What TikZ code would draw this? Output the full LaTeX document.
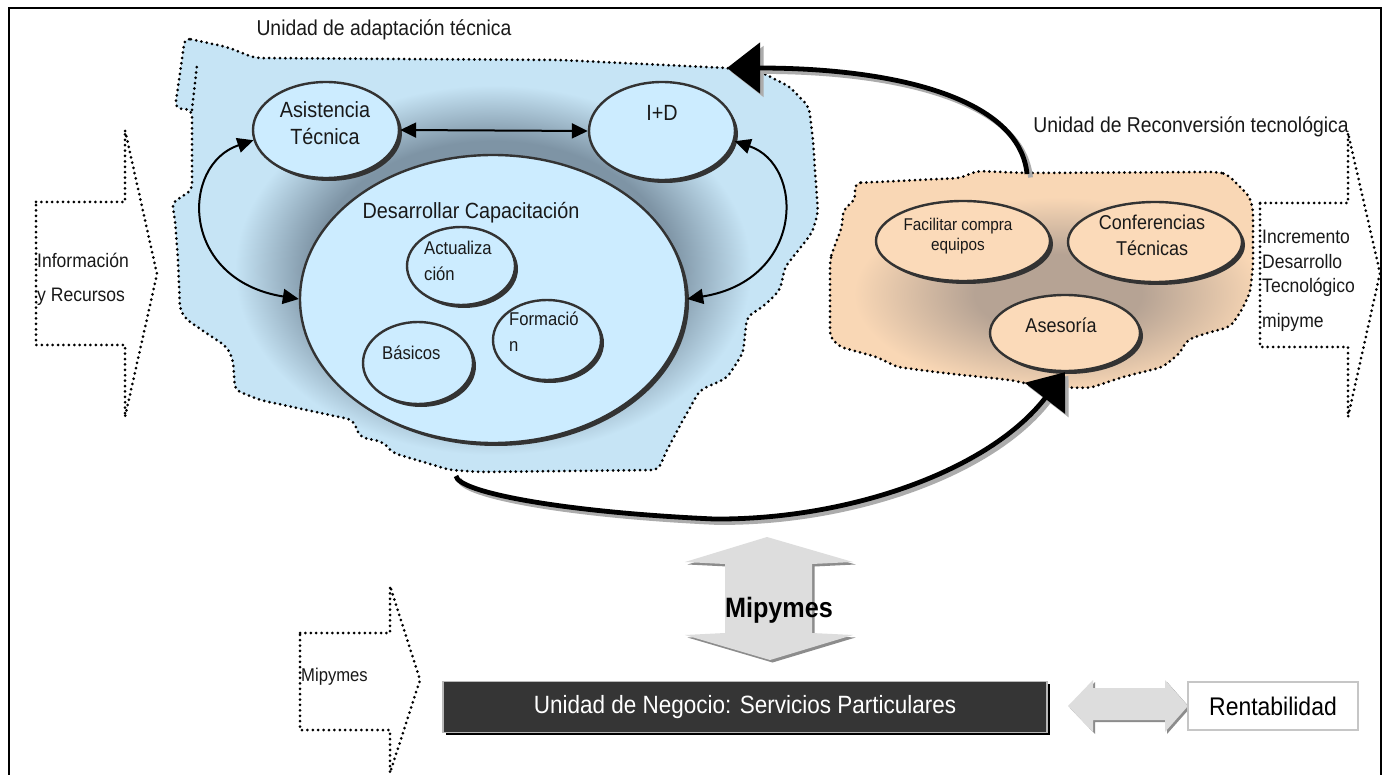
\documentclass[tikz,border=0pt]{standalone}
\usepackage{fontspec}
\setmainfont{Liberation Sans}[FakeStretch=0.9]
\usetikzlibrary{arrows.meta,shapes.geometric,shadows}

\definecolor{blobblue}{RGB}{198,228,245}
\definecolor{cellblue}{RGB}{204,236,255}
\definecolor{glowblue}{RGB}{126,148,165}
\definecolor{blobtan}{RGB}{249,215,181}
\definecolor{celltan}{RGB}{251,218,185}
\definecolor{glowtan}{RGB}{182,163,148}
\definecolor{rim}{RGB}{51,51,51}
\definecolor{blockgray}{RGB}{221,221,221}
\definecolor{blockshade}{RGB}{140,140,140}
\definecolor{darkbar}{RGB}{53,53,53}

% soft halos behind the ellipse groups
\pgfdeclareradialshading{glowB}{\pgfpoint{0bp}{0bp}}{color(0bp)=(glowblue); color(15bp)=(glowblue); color(21.5bp)=(blobblue); color(50bp)=(blobblue)}
\pgfdeclareradialshading{glowT}{\pgfpoint{0bp}{0bp}}{color(0bp)=(glowtan); color(9bp)=(glowtan); color(22bp)=(blobtan); color(50bp)=(blobtan)}

% outlines of the two unit areas
\newcommand\bluecloud{(185,38) -- (227,47) -- (255,58) -- (400,59) -- (560,60) -- (727,68) -- (763,73) -- (790,87) -- (809,107) -- (813,140) -- (818,213) -- (812,233) -- (785,267) -- (780,290) -- (765,305) -- (747,317) -- (743,353) -- (727,378) -- (700,390) -- (683,420) -- (667,450) -- (658,470) -- (480,472) -- (450,470) -- (393,453) -- (383,442) -- (360,437) -- (353,420) -- (260,400) -- (235,390) -- (233,360) -- (227,347) -- (187,320) -- (180,310) -- (178,260) -- (175,220) -- (172,203) -- (192,190) -- (192,110) -- (175,108) -- cycle}
\newcommand\tancloud{(855,183) -- (960,178) -- (977,171) -- (1027,173) -- (1217,172) -- (1227,174) -- (1240,187) -- (1250,197) -- (1253,210) -- (1253,267) -- (1250,293) -- (1240,313) -- (1230,327) -- (1207,333) -- (1187,340) -- (1180,353) -- (1163,367) -- (1123,377) -- (1090,388) -- (1043,387) -- (1010,380) -- (943,373) -- (897,367) -- (877,357) -- (840,347) -- (830,337) -- (830,260) -- (833,250) -- (842,227) -- (843,210) -- (855,200) -- cycle}

\tikzset{
  dotline/.style={line width=3pt, dash pattern=on 0pt off 5.4pt, line cap=round},
  cell/.style={ellipse, draw=rim, line width=2.4pt, inner sep=0pt,
    drop shadow={shadow xshift=3pt, shadow yshift=-3pt, fill=rim, opacity=1}},
  bluecell/.style={cell, fill=cellblue},
  tancell/.style={cell, fill=celltan},
  txt/.style={inner sep=0pt, text=black!90},
  t22/.style={txt, font=\fontsize{22}{27}\selectfont},
  t21/.style={txt, font=\fontsize{21.5}{26}\selectfont},
  t20/.style={txt, font=\fontsize{20}{26}\selectfont},
  t19/.style={txt, font=\fontsize{19.5}{25}\selectfont},
  t18/.style={txt, font=\fontsize{18.5}{26}\selectfont},
  t17/.style={txt, font=\fontsize{17}{20}\selectfont},
  link/.style={line width=2pt, {Triangle[length=16pt,width=15pt]}-{Triangle[length=16pt,width=15pt]}},
  bigflow/.style={line width=4.8pt, -{Triangle[length=33pt,width=50pt]}},
  bigshade/.style={bigflow, draw=gray!65, transform canvas={xshift=3.5pt,yshift=-3.5pt}},
}

\begin{document}
\begin{tikzpicture}[x=1pt,y=-1pt]
\useasboundingbox (0,0) rectangle (1389,775);
\clip (0,0) rectangle (1389,775);
\fill[white] (0,0) rectangle (1389,775);

% outer frame
\draw[line width=2pt] (9,8) rectangle (1381,800);

% adaptation unit area
\begin{scope}
  \clip[rounded corners=6pt] \bluecloud;
  \fill[blobblue] (150,20) rectangle (830,480);
  \shade[shading=glowB] (193,55) rectangle (793,485);
\end{scope}
\draw[dotline, rounded corners=6pt] \bluecloud;
\draw[dotline] (192,110) -- (197,65);
\node[t21] (titleA) at (384,30) {Unidad de adaptación técnica};

% reconversion unit area
\begin{scope}
  \clip[rounded corners=6pt] \tancloud;
  \fill[blobtan] (820,160) rectangle (1260,400);
  \shade[shading=glowT] (826,184) rectangle (1290,404);
\end{scope}
\draw[dotline, rounded corners=6pt] \tancloud;
\node[t21] (titleR) at (1191,127) {Unidad de Reconversión tecnológica};

% ellipses of the adaptation unit
\node[bluecell, minimum width=146pt, minimum height=96pt] (asis) at (326,130) {};
\node[t22, align=center] (asisT) at (325,123) {Asistencia\\Técnica};
\node[bluecell, minimum width=146pt, minimum height=98pt] (id) at (662,131) {};
\node[t22] (idT) at (662,113) {I+D};
\node[bluecell, minimum width=386pt, minimum height=288pt] (cap) at (493,299) {};
\node[t22] (capT) at (471,213) {Desarrollar Capacitación};
\node[bluecell, minimum width=108pt, minimum height=78pt] (act) at (461,266) {};
\node[t18, align=left, anchor=west] (actT) at (424,261) {Actualiza\\ción};
\node[bluecell, minimum width=110pt, minimum height=82pt] (bas) at (418,363) {};
\node[t18, anchor=west] (basT) at (382,353) {Básicos};
\node[bluecell, minimum width=108pt, minimum height=80pt] (form) at (547,340) {};
\node[t18, align=left, anchor=west] (formT) at (509,332) {Formació\\n};

% links between the adaptation activities
\draw[link] (asis.east) -- (id.west);
\draw[link] (asis.188) .. controls (180,165) and (180,280) .. (cap.west);
\draw[link] (id.-8) .. controls (805,165) and (805,280) .. (cap.east);

% ellipses of the reconversion unit
\node[tancell, minimum width=174pt, minimum height=80pt] (fac) at (963,241) {};
\node[t17, align=center] (facT) at (958,236) {Facilitar compra\\equipos};
\node[tancell, minimum width=174pt, minimum height=80pt] (conf) at (1155,242) {};
\node[t20, align=center] (confT) at (1152,235) {Conferencias\\Técnicas};
\node[tancell, minimum width=150pt, minimum height=76pt] (ases) at (1065,333) {};
\node[t20] (asesT) at (1061,325) {Asesoría};

% big flows between the units
\coordinate (tanTop) at (1027,174);
\coordinate (blueTop) at (727,68);
\coordinate (blueBot) at (456,476);
\draw[bigshade] (tanTop) .. controls (1020,100) and (900,68) .. (blueTop);
\draw[bigflow] (tanTop) .. controls (1020,100) and (900,68) .. (blueTop);
\draw[bigshade] (blueBot) .. controls (458,492) and (560,512) .. (714,519) .. controls (850,520) and (990,470) .. (ases.south);
\draw[bigflow] (blueBot) .. controls (458,492) and (560,512) .. (714,519) .. controls (850,520) and (990,470) .. (ases.south);

% dotted input / output arrows
\draw[dotline] (36,202) -- (125,202) -- (125,130) -- (157,274) -- (125,417) -- (125,345) -- (36,345) -- cycle;
\node[t19, anchor=west] (infoA) at (37,260) {Información};
\node[t19, anchor=west] (infoB) at (37,297) {y Recursos};

\draw[dotline] (1260,203) -- (1348,203) -- (1348,133) -- (1380,273) -- (1348,417) -- (1348,347) -- (1260,347) -- cycle;
\node[t19, anchor=west] (incA) at (1262,237) {Incremento};
\node[t19, anchor=west] (incB) at (1262,262) {Desarrollo};
\node[t19, anchor=west] (incC) at (1262,287) {Tecnológico};
\node[t19, anchor=west] (incD) at (1262,322) {mipyme};

\draw[dotline] (300,633) -- (390,633) -- (390,586) -- (420,680) -- (390,773) -- (390,730) -- (300,730) -- cycle;
\node[t18, anchor=west] (mipL) at (301,677) {Mipymes};

% vertical block arrow
\fill[blockshade, shift={(2.5,2.5)}] (767,537) -- (853,562) -- (812,564) -- (812,633) -- (853,635) -- (770,660) -- (685,635) -- (725,633) -- (725,564) -- (685,562) -- cycle;
\fill[blockgray] (767,537) -- (853,562) -- (812,564) -- (812,633) -- (853,635) -- (770,660) -- (685,635) -- (725,633) -- (725,564) -- (685,562) -- cycle;
\node[txt, font=\bfseries\fontsize{28}{32}\selectfont, text=black] (mipC) at (779,610) {Mipymes};

% business unit bar
\node[draw=gray!55, line width=1.5pt, fill=darkbar, minimum width=604pt, minimum height=51pt, inner sep=0pt,
  drop shadow={shadow xshift=2.5pt, shadow yshift=-2.5pt, fill=black, opacity=1},
  text=white!94, font=\fontsize{25}{30}\selectfont] (negocio) at (745,707) {Unidad de Negocio: Servicios Particulares};

% horizontal block arrow and profitability box
\fill[blockshade, shift={(2,2)}] (1068,706) -- (1093,680) -- (1093,688) -- (1165,688) -- (1165,680) -- (1188,706) -- (1165,732) -- (1165,720) -- (1093,720) -- (1093,732) -- cycle;
\fill[blockgray] (1068,706) -- (1093,680) -- (1093,688) -- (1165,688) -- (1165,680) -- (1188,706) -- (1165,732) -- (1165,720) -- (1093,720) -- (1093,732) -- cycle;
\node[draw=gray!45, line width=1.5pt, fill=white, minimum width=170pt, minimum height=48pt, inner sep=0pt,
  font=\fontsize{25.5}{30}\selectfont] (rent) at (1273,706) {Rentabilidad};
\end{tikzpicture}
\end{document}
